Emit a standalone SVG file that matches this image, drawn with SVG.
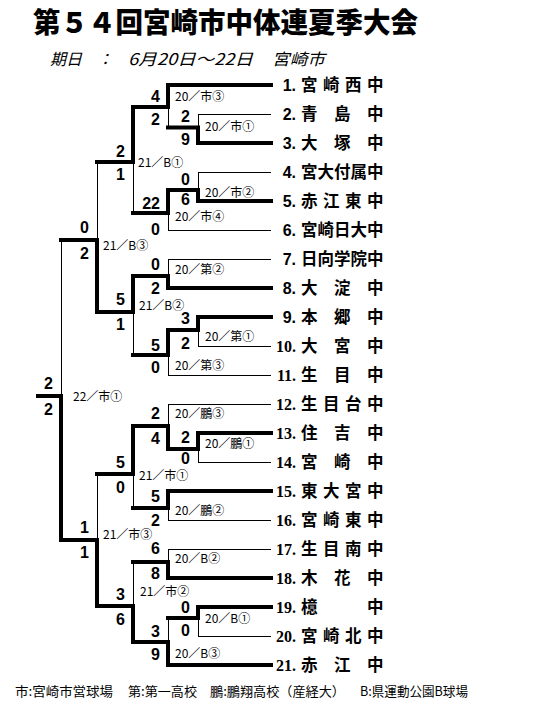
<svg xmlns="http://www.w3.org/2000/svg" width="540" height="720" viewBox="0 0 540 720">
<style>
.thin{fill:none;stroke:#000;stroke-width:1;shape-rendering:crispEdges}
.thick{fill:none;stroke:#000;stroke-width:4;stroke-linecap:square;stroke-linejoin:miter}
.sc{font-family:"Liberation Sans",Arial,sans-serif;font-weight:bold;font-size:16px;text-anchor:end;fill:#000}
.vn{font-family:"Noto Sans CJK JP","Noto Sans CJK SC",sans-serif;font-size:12px;fill:#000}
.n1{font-family:"Liberation Sans",Arial,sans-serif;font-weight:bold;font-size:16px;text-anchor:end}
.n2{font-family:"Liberation Serif","Times New Roman",serif;font-weight:bold;font-size:16px;text-anchor:end}
.nm{font-family:"Noto Sans CJK JP","Noto Sans CJK SC",sans-serif;font-weight:bold;font-size:16.5px}
.ttl{font-family:"Noto Sans CJK JP","Noto Sans CJK SC",sans-serif;font-weight:900;font-size:28px}
.sub{font-family:"Noto Sans CJK JP","Noto Sans CJK SC",sans-serif;font-style:italic;font-size:16px}
.ft{font-family:"Noto Sans CJK JP","Noto Sans CJK SC",sans-serif;font-size:13px}
</style>
<rect width="540" height="720" fill="#fff"/>
<g id="title">
<text class="ttl" x="33" y="33" textLength="385" lengthAdjust="spacingAndGlyphs">第５４回宮崎市中体連夏季大会</text>
<text class="sub" x="50" y="65" textLength="32" lengthAdjust="spacingAndGlyphs">期日</text>
<text class="sub" x="97" y="65">：</text>
<text class="sub" x="128" y="65" textLength="125" lengthAdjust="spacingAndGlyphs">6月20日～22日</text>
<text class="sub" x="272" y="65" textLength="53" lengthAdjust="spacingAndGlyphs">宮崎市</text>
</g>
<g id="connectors">
<path class="thin" d="M271,114H198V127.5 M168,107V127.5 M271,172H198V190 M271,230H168V213 M133,162V213 M97,162V240 M271,259H168V276 M271,346H198V330 M271,375H168V355 M133,312V355 M61,240V396 M271,404H168V426 M271,462H198V449 M271,520H168V508 M133,474V508 M97,474V540 M271,549H168V562 M271,636H198V618 M168,618V642 M133,562V606"/>
<path class="thick" d="M271,85H168V107H133V162H97"/>
<path class="thick" d="M271,143H198V127.5H168"/>
<path class="thick" d="M271,201H198V190H168V213H133"/>
<path class="thick" d="M271,288H168V276H133V312H97V240H61"/>
<path class="thick" d="M271,317H198V330H168V355H133"/>
<path class="thick" d="M38,396H61V540H97V606H133V642H168V665H271"/>
<path class="thick" d="M271,433H198V449H168V426H133V474H97"/>
<path class="thick" d="M271,491H168V508H133"/>
<path class="thick" d="M271,578H168V562H133"/>
<path class="thick" d="M271,607H198V618H168"/>
<g id="scores">
<text class="sc" x="160" y="102">4</text><text class="sc" x="160" y="125">2</text>
<text class="sc" x="190" y="122">2</text><text class="sc" x="190" y="145">9</text>
<text class="sc" x="125" y="157">2</text><text class="sc" x="125" y="180">1</text>
<text class="sc" x="190" y="185">0</text><text class="sc" x="190" y="204.5">6</text>
<text class="sc" x="160" y="209">22</text><text class="sc" x="160" y="235">0</text>
<text class="sc" x="89" y="233">0</text><text class="sc" x="89" y="259">2</text>
<text class="sc" x="160" y="270">0</text><text class="sc" x="160" y="294">2</text>
<text class="sc" x="125" y="305">5</text><text class="sc" x="125" y="330">1</text>
<text class="sc" x="190" y="324">3</text><text class="sc" x="190" y="349">2</text>
<text class="sc" x="160" y="351">5</text><text class="sc" x="160" y="373">0</text>
<text class="sc" x="53" y="389">2</text><text class="sc" x="53" y="415">2</text>
<text class="sc" x="160" y="419">2</text><text class="sc" x="160" y="444">4</text>
<text class="sc" x="190" y="443">2</text><text class="sc" x="190" y="463.5">0</text>
<text class="sc" x="125" y="468">5</text><text class="sc" x="125" y="493">0</text>
<text class="sc" x="160" y="502">5</text><text class="sc" x="160" y="526">2</text>
<text class="sc" x="89" y="533">1</text><text class="sc" x="89" y="558">1</text>
<text class="sc" x="160" y="554">6</text><text class="sc" x="160" y="579">8</text>
<text class="sc" x="125" y="600">3</text><text class="sc" x="125" y="625">6</text>
<text class="sc" x="190" y="612.5">0</text><text class="sc" x="190" y="636">0</text>
<text class="sc" x="160" y="637">3</text><text class="sc" x="160" y="660">9</text>
</g>
<g id="venues">
<text class="vn" x="175" y="100.5">20／市③</text>
<text class="vn" x="205" y="130.5">20／市①</text>
<text class="vn" x="138" y="166.5">21／B①</text>
<text class="vn" x="205" y="196.5">20／市②</text>
<text class="vn" x="175" y="221">20／市④</text>
<text class="vn" x="103" y="249.5">21／B③</text>
<text class="vn" x="175" y="273.5">20／第②</text>
<text class="vn" x="139" y="309.5">21／B②</text>
<text class="vn" x="205" y="340.5">20／第①</text>
<text class="vn" x="175" y="369.5">20／第③</text>
<text class="vn" x="73" y="400.5">22／市①</text>
<text class="vn" x="175" y="417.5">20／鵬③</text>
<text class="vn" x="205" y="447.5">20／鵬①</text>
<text class="vn" x="139" y="480">21／市①</text>
<text class="vn" x="175" y="514.5">20／鵬②</text>
<text class="vn" x="103" y="538.5">21／市③</text>
<text class="vn" x="175" y="562.5">20／B②</text>
<text class="vn" x="140" y="595.5">21／市②</text>
<text class="vn" x="205" y="622.5">20／B①</text>
<text class="vn" x="175" y="657.5">20／B③</text>
</g>
</g>
<g id="team1"><text class="n1" x="296" y="91">1.</text><text class="nm" x="301 323 345 367" y="91">宮崎西中</text></g>
<g id="team2"><text class="n1" x="296" y="120">2.</text><text class="nm" x="301 334 367" y="120">青島中</text></g>
<g id="team3"><text class="n1" x="296" y="149">3.</text><text class="nm" x="301 334 367" y="149">大塚中</text></g>
<g id="team4"><text class="n1" x="296" y="178">4.</text><text class="nm" x="301" y="178">宮大付属中</text></g>
<g id="team5"><text class="n1" x="296" y="207">5.</text><text class="nm" x="301 323 345 367" y="207">赤江東中</text></g>
<g id="team6"><text class="n1" x="296" y="236">6.</text><text class="nm" x="301" y="236">宮崎日大中</text></g>
<g id="team7"><text class="n1" x="296" y="265">7.</text><text class="nm" x="301" y="265">日向学院中</text></g>
<g id="team8"><text class="n1" x="296" y="294">8.</text><text class="nm" x="301 334 367" y="294">大淀中</text></g>
<g id="team9"><text class="n1" x="296" y="323">9.</text><text class="nm" x="301 334 367" y="323">本郷中</text></g>
<g id="team10"><text class="n2" x="296" y="352">10.</text><text class="nm" x="301 334 367" y="352">大宮中</text></g>
<g id="team11"><text class="n2" x="296" y="381">11.</text><text class="nm" x="301 334 367" y="381">生目中</text></g>
<g id="team12"><text class="n2" x="296" y="410">12.</text><text class="nm" x="301 323 345 367" y="410">生目台中</text></g>
<g id="team13"><text class="n2" x="296" y="439">13.</text><text class="nm" x="301 334 367" y="439">住吉中</text></g>
<g id="team14"><text class="n2" x="296" y="468">14.</text><text class="nm" x="301 334 367" y="468">宮崎中</text></g>
<g id="team15"><text class="n2" x="296" y="497">15.</text><text class="nm" x="301 323 345 367" y="497">東大宮中</text></g>
<g id="team16"><text class="n2" x="296" y="526">16.</text><text class="nm" x="301 323 345 367" y="526">宮崎東中</text></g>
<g id="team17"><text class="n2" x="296" y="555">17.</text><text class="nm" x="301 323 345 367" y="555">生目南中</text></g>
<g id="team18"><text class="n2" x="296" y="584">18.</text><text class="nm" x="301 334 367" y="584">木花中</text></g>
<g id="team19"><text class="n2" x="296" y="613">19.</text><text class="nm" x="301 367" y="613">檍中</text></g>
<g id="team20"><text class="n2" x="296" y="642">20.</text><text class="nm" x="301 323 345 367" y="642">宮崎北中</text></g>
<g id="team21"><text class="n2" x="296" y="671">21.</text><text class="nm" x="301 334 367" y="671">赤江中</text></g>
<g id="legend">
<text class="ft" x="15" y="696" textLength="98" lengthAdjust="spacingAndGlyphs">市:宮崎市営球場</text>
<text class="ft" x="128" y="696" textLength="69" lengthAdjust="spacingAndGlyphs">第:第一高校</text>
<text class="ft" x="210" y="696" textLength="135" lengthAdjust="spacingAndGlyphs">鵬:鵬翔高校（産経大）</text>
<text class="ft" x="360" y="696" textLength="108" lengthAdjust="spacingAndGlyphs">B:県運動公園B球場</text>
</g>
</svg>
